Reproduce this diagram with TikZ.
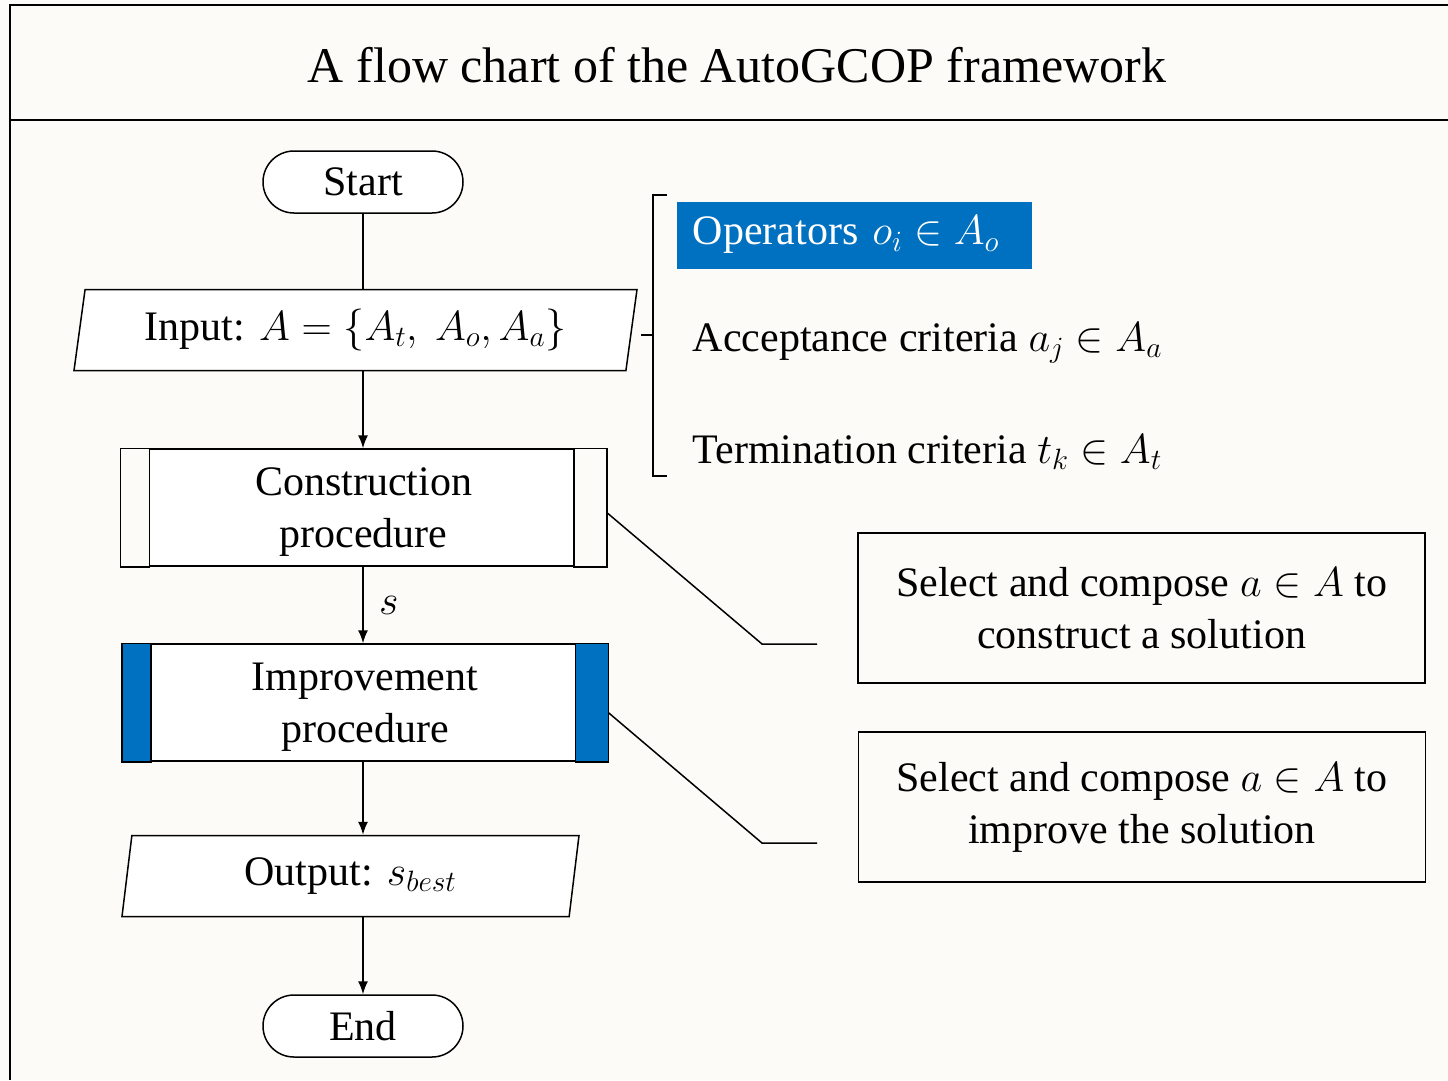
\documentclass[tikz,border=0pt]{standalone}
\usepackage{fix-cm}
\usepackage{fontspec}
\setmainfont{Liberation Serif}
\usetikzlibrary{calc}
\usetikzlibrary{shapes.geometric}
\usetikzlibrary{arrows.meta}

\definecolor{paper}{HTML}{FCFBF7}
\definecolor{opblue}{HTML}{0070C0}

\newcommand{\bodyfont}{\fontsize{42}{52}\selectfont}
\newcommand{\titlefont}{\fontsize{50}{60}\selectfont}

\begin{document}
\begin{tikzpicture}[x=1pt, y=-1pt, line width=1.5pt,
    every node/.style={font=\bodyfont},
    term/.style={draw, fill=white, rounded corners=31pt, minimum width=200pt, minimum height=62pt, inner sep=2pt},
    io/.style={draw, fill=white, trapezium, trapezium left angle=77, trapezium right angle=103,
      trapezium stretches body, minimum height=81pt, inner sep=3pt},
    proc/.style={draw, fill=white, minimum width=485pt, minimum height=117pt,
      label={[align=center, yshift=-5pt]center:#1}},
    note/.style={draw, minimum width=567pt, minimum height=150pt, align=center, inner sep=2pt},
    crit/.style={anchor=west, inner xsep=16pt, minimum height=67pt},
    arr/.style={-{Latex[length=13pt,width=10pt]}}
    ]
    \useasboundingbox (0,0) rectangle (1448,1080);
    \fill[paper] (0,0) rectangle (1448,1080);

    % frame and title
    \draw[line width=2pt] (1448,5) -- (10,5) -- (10,1080);
    \draw[line width=2pt] (10,120) -- (1448,120);
    \node[font=\titlefont] (title) at (737,65) {A flow chart of the AutoGCOP framework};

    % flow
    \node[term] (start) at (363,182) {Start};
    \node[io, minimum width=563pt] (input) at (355.5,330) {Input: $A = \{A_t,\ A_o, A_a\}$};
    \node[proc={Construction\\procedure}] (cons) at (363.5,507.5) {};
    \node[proc={Improvement\\procedure}] (imp) at (365,702.5) {};
    \node[io, minimum width=457pt] (output) at (350.5,876) {Output: $s_{best}$};
    \node[term] (end) at (363,1026) {End};

    \foreach \n/\c in {cons/paper, imp/opblue} {
      \filldraw[fill=\c] (\n.north west) rectangle ([xshift=29pt]\n.south west);
      \filldraw[fill=\c] (\n.north east) rectangle ([xshift=-33pt]\n.south east);
    }

    \draw (start.south) -- (start.south |- input.north);
    \draw[arr] (start.south |- input.south) -- (start.south |- cons.north);
    \draw[arr] (start.south |- cons.south) -- node[right, xshift=12pt] {$s$} (start.south |- imp.north);
    \draw[arr] (start.south |- imp.south) -- (start.south |- output.north);
    \draw[arr] (start.south |- output.south) -- (end.north);

    % action sets
    \node[crit, fill=opblue, text=white, text width=323pt, align=left] (ops) at (676,235) {Operators $o_i \in A_o$};
    \node[crit] (acc) at (676,343) {Acceptance criteria $a_j \in A_a$};
    \node[crit] (term) at (676,452) {Termination criteria $t_k \in A_t$};
    \draw (667,195) -- (653,195) -- (653,476) -- (667,476);
    \draw (653,335) -- (641,335);

    % notes
    \node[note] (cnote) at (1141.5,608) {Select and compose $a \in A$ to\\construct a solution};
    \node[note] (inote) at (1142,807) {Select and compose $a \in A$ to\\improve the solution};
    \coordinate (c1) at (817,644);
    \coordinate (c2) at (817,843);
    \draw ([yshift=-5pt]cons.east) -- ([xshift=-55pt]c1) -- (c1);
    \draw ([yshift=-10pt]imp.east) -- ([xshift=-55pt]c2) -- (c2);
\end{tikzpicture}
\end{document}
